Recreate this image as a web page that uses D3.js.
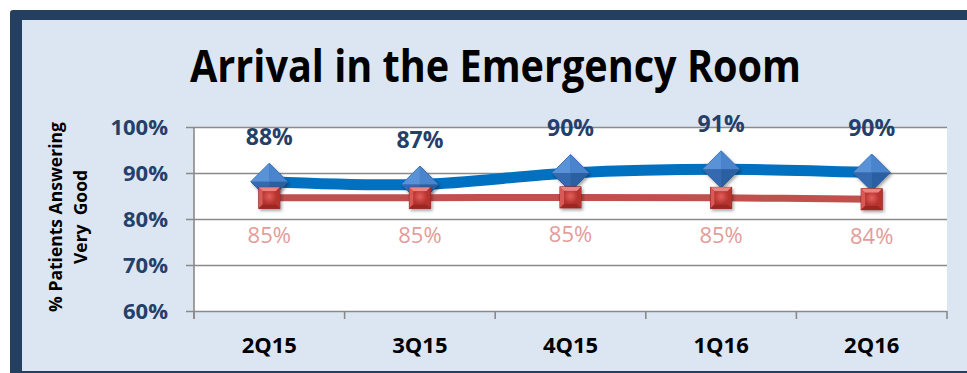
<!DOCTYPE html>
<html>
<head>
<meta charset="utf-8">
<script src="https://cdn.jsdelivr.net/npm/d3@7"></script>
<style>
  html, body { margin: 0; padding: 0; background: #ffffff; }
  svg { display: block; }
  text { font-family: "Open Sans", "DejaVu Sans", sans-serif; }
</style>
</head>
<body>
<svg id="chart" width="967" height="373"></svg>
<script>
const title = "Arrival in the Emergency Room";
const yTitleLines = ["% Patients Answering", "Very  Good"];
const categories = ["2Q15", "3Q15", "4Q15", "1Q16", "2Q16"];
const hospitalValues = [88.1, 87.5, 90.0, 90.8, 90.1];
const hospitalLabels = ["88%", "87%", "90%", "91%", "90%"];
const benchmarkValues = [84.6, 84.6, 84.7, 84.6, 84.3];
const benchmarkLabels = ["85%", "85%", "85%", "85%", "84%"];
const yTicks = [60, 70, 80, 90, 100];

const svg = d3.select("#chart");
const plot = { left: 194, right: 947, top: 127, bottom: 311 };

const defs = svg.append("defs");
const sh = defs.append("filter").attr("id", "shadow").attr("x", "-50%").attr("y", "-50%").attr("width", "200%").attr("height", "200%");
sh.append("feDropShadow").attr("dx", 1.5).attr("dy", 2).attr("stdDeviation", 1.5).attr("flood-color", "#000").attr("flood-opacity", 0.35);

const sqGrad = defs.append("radialGradient").attr("id", "sqGrad").attr("cx", "50%").attr("cy", "40%").attr("r", "60%");
sqGrad.append("stop").attr("offset", "0%").attr("stop-color", "#e4605c");
sqGrad.append("stop").attr("offset", "100%").attr("stop-color", "#b3302c");

// frame
svg.append("rect").attr("x", 10).attr("y", 10).attr("width", 1000).attr("height", 420).attr("rx", 3).attr("fill", "#253f61");
svg.append("rect").attr("x", 22).attr("y", 20).attr("width", 1000).attr("height", 351).attr("fill", "#dce6f2");

// plot area
svg.append("rect").attr("x", plot.left).attr("y", plot.top).attr("width", plot.right - plot.left).attr("height", plot.bottom - plot.top).attr("fill", "#ffffff");

const x = d3.scaleBand().domain(categories).range([plot.left, plot.right]);
const y = d3.scaleLinear().domain([60, 100]).range([plot.bottom, plot.top]);

// gridlines + y axis
const yAxis = d3.axisLeft(y).tickValues(yTicks).tickSize(-(plot.right - plot.left)).tickSizeOuter(0).tickFormat(d => d + "%").tickPadding(26);
const gy = svg.append("g").attr("transform", `translate(${plot.left},0)`).call(yAxis);
gy.select(".domain").remove();
gy.selectAll(".tick line").attr("stroke", "#8a8a8a").attr("stroke-width", 1.6).attr("x1", -8);
gy.selectAll(".tick text").attr("fill", "#24406a").attr("font-size", 22).attr("font-weight", 700).attr("dy", "0.36em");

// y axis line
svg.append("line").attr("x1", plot.left).attr("x2", plot.left).attr("y1", plot.top).attr("y2", plot.bottom + 8).attr("stroke", "#8a8a8a").attr("stroke-width", 1.6);

// x axis ticks at category boundaries
const boundaries = categories.map(c => x(c)).concat([plot.right]);
svg.append("g").selectAll("line").data(boundaries).join("line")
  .attr("x1", d => d).attr("x2", d => d).attr("y1", plot.bottom).attr("y2", plot.bottom + 8)
  .attr("stroke", "#8a8a8a").attr("stroke-width", 1.6);

// x labels
svg.append("g").selectAll("text").data(categories).join("text")
  .attr("x", d => x(d) + x.bandwidth() / 2).attr("y", 353)
  .attr("text-anchor", "middle").attr("font-size", 22).attr("font-weight", 700).attr("fill", "#000")
  .text(d => d);

// title
const t = svg.append("text").attr("x", 190).attr("y", 82).attr("font-size", 44).attr("font-weight", 700).attr("fill", "#000").text(title);
t.attr("textLength", 611).attr("lengthAdjust", "spacingAndGlyphs");

// y title
const yt = svg.append("text").attr("transform", "translate(0,217) rotate(-90)").attr("font-size", 17.5).attr("font-weight", 700).attr("fill", "#000").attr("text-anchor", "middle");
yt.append("tspan").attr("x", 0).attr("y", 62).text(yTitleLines[0]);
yt.append("tspan").attr("x", 0).attr("y", 87).attr("xml:space", "preserve").style("white-space", "pre").text(yTitleLines[1]);

const cx = d => x(d) + x.bandwidth() / 2;

const hosp = categories.map((c, i) => ({ c, v: hospitalValues[i], l: hospitalLabels[i] }));
const bench = categories.map((c, i) => ({ c, v: benchmarkValues[i], l: benchmarkLabels[i] }));

// hospital line
svg.append("path").datum(hosp)
  .attr("d", d3.line().x(d => cx(d.c)).y(d => y(d.v)).curve(d3.curveCatmullRom))
  .attr("fill", "none").attr("stroke", "#0070c0").attr("stroke-width", 11).attr("stroke-linecap", "butt");

// diamonds
const r = 18.5;
const dg = svg.append("g").selectAll("g").data(hosp).join("g")
  .attr("transform", d => `translate(${cx(d.c)},${y(d.v)})`).attr("filter", "url(#shadow)");
dg.append("path").attr("d", `M0,${-r}L${r},0L0,${r}L${-r},0Z`).attr("fill", "#3a74bf").attr("stroke", "#2b5b95").attr("stroke-width", 1);
dg.append("path").attr("d", `M0,${-r}L${-r},0L0,0Z`).attr("fill", "#5a92d8");
dg.append("path").attr("d", `M0,${-r}L${r},0L0,0Z`).attr("fill", "#4a84cc");
dg.append("path").attr("d", `M${-r},0L0,${r}L0,0Z`).attr("fill", "#3469b0");
dg.append("path").attr("d", `M${r},0L0,${r}L0,0Z`).attr("fill", "#2c5ea2");

// benchmark line
svg.append("path").datum(bench)
  .attr("d", d3.line().x(d => cx(d.c)).y(d => y(d.v)).curve(d3.curveCatmullRom))
  .attr("fill", "none").attr("stroke", "#c0504d").attr("stroke-width", 7);

// squares
const s = 10.5;
const sg = svg.append("g").selectAll("g").data(bench).join("g")
  .attr("transform", d => `translate(${cx(d.c)},${y(d.v)})`).attr("filter", "url(#shadow)");
sg.append("rect").attr("x", -s).attr("y", -s).attr("width", 2 * s).attr("height", 2 * s).attr("fill", "#c2403c").attr("stroke", "#8e2421").attr("stroke-width", 1);
sg.append("path").attr("d", `M${-s},${-s}L${s},${-s}L${s-4},${-s+4}L${-s+4},${-s+4}Z`).attr("fill", "#ec8380");
sg.append("path").attr("d", `M${-s},${-s}L${-s+4},${-s+4}L${-s+4},${s-4}L${-s},${s}Z`).attr("fill", "#d75a56");
sg.append("path").attr("d", `M${s},${-s}L${s-4},${-s+4}L${s-4},${s-4}L${s},${s}Z`).attr("fill", "#b8332f");
sg.append("path").attr("d", `M${-s},${s}L${-s+4},${s-4}L${s-4},${s-4}L${s},${s}Z`).attr("fill", "#9c2623");
sg.append("rect").attr("x", -s + 4).attr("y", -s + 4).attr("width", 2 * s - 8).attr("height", 2 * s - 8).attr("fill", "url(#sqGrad)");

// labels
svg.append("g").selectAll("text").data(hosp).join("text")
  .attr("x", d => cx(d.c)).attr("y", d => y(d.v) - 37)
  .attr("text-anchor", "middle").attr("font-size", 23).attr("font-weight", 700).attr("fill", "#24406a")
  .text(d => d.l);
svg.append("g").selectAll("text").data(bench).join("text")
  .attr("x", d => cx(d.c)).attr("y", d => y(d.v) + 45)
  .attr("text-anchor", "middle").attr("font-size", 22).attr("font-weight", 400).attr("fill", "#e39c9a")
  .text(d => d.l);
</script>
</body>
</html>
